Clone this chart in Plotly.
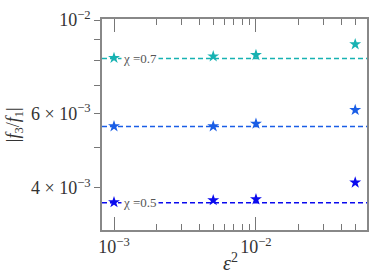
import math
import plotly.graph_objects as go

# ---- data ----
eps2 = [0.001, 0.005, 0.01, 0.05]
ratio_07 = [8.13e-3, 8.20e-3, 8.26e-3, 8.76e-3]
ratio_06 = [5.60e-3, 5.60e-3, 5.68e-3, 6.12e-3]
ratio_05 = [3.70e-3, 3.74e-3, 3.76e-3, 4.12e-3]
levels = [8.11e-3, 5.59e-3, 3.69e-3]
colors = ["#17b2b2", "#1a5ee6", "#0a0aee"]
chi_labels = {0: "χ =0.7", 2: "χ =0.5"}

y_tick_vals = [1e-2, 6e-3, 4e-3]
y_tick_text = ["10<sup>−2</sup>", "6 × 10<sup>−3</sup>", "4 × 10<sup>−3</sup>"]
y_minor_vals = [5e-3, 7e-3, 8e-3, 9e-3]
x_tick_vals = [1e-3, 1e-2]
x_tick_text = ["10<sup>−3</sup>", "10<sup>−2</sup>"]
x_minor_vals = [2e-3, 3e-3, 4e-3, 5e-3, 6e-3, 7e-3, 8e-3, 9e-3, 2e-2, 3e-2, 4e-2, 5e-2]

FONT = "Liberation Serif"
fig = go.Figure()

series = [ratio_07, ratio_06, ratio_05]
for i, ys in enumerate(series):
    fig.add_shape(type="line", xref="x domain", yref="y", x0=0, x1=1,
                  y0=levels[i], y1=levels[i],
                  line=dict(color=colors[i], width=1.5, dash="5px,3px"), layer="below")
    fig.add_trace(go.Scatter(x=eps2, y=ys, mode="markers",
                             marker=dict(symbol="star", size=9, color=colors[i],
                                         line=dict(width=0)),
                             showlegend=False))

for i, txt in chi_labels.items():
    fig.add_annotation(x=math.log10(1.12e-3), y=math.log10(levels[i]), xref="x", yref="y",
                       text=txt, showarrow=False, xanchor="left", yanchor="middle",
                       bgcolor="white", borderpad=1,
                       font=dict(family=FONT, size=13, color="#555"))

fig.add_annotation(x=-0.335, y=0.5, xref="paper", yref="paper", textangle=-90,
                   xshift=-12,
                   text="|<i>f</i><sub>3</sub>/<i>f</i><sub>1</sub>|", showarrow=False,
                   font=dict(family=FONT, size=18, color="#333"))
fig.add_annotation(x=0.5, y=-0.15, xref="paper", yref="paper", xshift=-4,
                   text="<i>ε</i><sup>2</sup>", showarrow=False, yanchor="middle",
                   borderpad=0,
                   font=dict(family=FONT, size=20, color="#333"))

fig.update_xaxes(type="log", range=[-3.0845, -1.218], automargin=False,
                 tickvals=x_tick_vals, ticktext=x_tick_text,
                 ticks="inside", ticklen=13, tickwidth=1, tickcolor="#777",
                 minor=dict(tickvals=x_minor_vals, ticks="inside", ticklen=6,
                            tickwidth=1, tickcolor="#777", showgrid=False),
                 showline=True, linecolor="#888", linewidth=1.5, mirror="ticks",
                 showgrid=False, zeroline=False,
                 tickfont=dict(family=FONT, size=18, color="#333"))
fig.update_yaxes(type="log", range=[-2.4976, -1.9976], automargin=False,
                 tickvals=y_tick_vals, ticktext=y_tick_text,
                 ticks="outside", ticklen=6, tickwidth=1, tickcolor="#777",
                 minor=dict(tickvals=y_minor_vals, ticks="outside", ticklen=6,
                            tickwidth=1, tickcolor="#777", showgrid=False),
                 showline=True, linecolor="#888", linewidth=1.5, mirror=True,
                 showgrid=False, zeroline=False,
                 tickfont=dict(family=FONT, size=18, color="#333"))

fig.update_layout(width=374, height=280, margin=dict(l=102, r=7, t=19, b=50),
                  plot_bgcolor="white", paper_bgcolor="white",
                  font=dict(family=FONT))
fig.write_html("out.html", post_script="document.body.style.margin='0';",
               config={"displayModeBar": False})
